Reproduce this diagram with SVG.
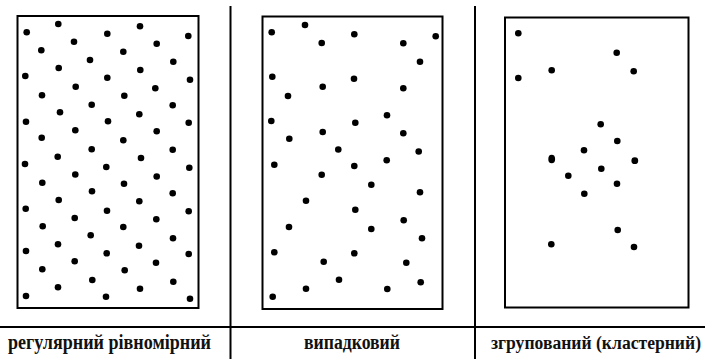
<svg xmlns="http://www.w3.org/2000/svg" width="705" height="359" viewBox="0 0 705 359">
<style>
.box{fill:none;stroke:#000;stroke-width:2}
.sep{stroke:#000;stroke-width:2}
.d{fill:#000}
.lbl{font-family:"Liberation Serif","Times New Roman",serif;font-weight:bold;font-size:20px;fill:#111;text-anchor:middle}
</style>
<rect width="705" height="359" fill="#fff"/>
<g id="separators">
<line class="sep" x1="230.5" y1="6" x2="230.5" y2="359"/>
<line class="sep" x1="475" y1="6" x2="475" y2="359"/>
<line class="sep" x1="0" y1="327" x2="705" y2="327"/>
</g>
<g id="panel-regular">
<rect class="box" x="17.5" y="16" width="181" height="292"/>
<g class="d">
<circle cx="26.7" cy="32.3" r="3.3"/><circle cx="58.3" cy="24" r="3.3"/><circle cx="107.3" cy="33.7" r="3.3"/><circle cx="140" cy="26.3" r="3.3"/><circle cx="188.3" cy="36" r="3.3"/>
<circle cx="74" cy="41.7" r="3.3"/><circle cx="156.7" cy="43.7" r="3.3"/><circle cx="41.3" cy="50.3" r="3.3"/><circle cx="123.3" cy="51.7" r="3.3"/><circle cx="90" cy="60" r="3.3"/><circle cx="173.3" cy="61.7" r="3.3"/>
<circle cx="58.7" cy="68" r="3.3"/><circle cx="140.3" cy="70" r="3.3"/><circle cx="25.3" cy="76" r="3.3"/><circle cx="107.3" cy="77.7" r="3.3"/><circle cx="190" cy="79.7" r="3.3"/>
<circle cx="75.7" cy="86.7" r="3.3"/><circle cx="155.3" cy="88.3" r="3.3"/><circle cx="42" cy="95.3" r="3.3"/><circle cx="124.3" cy="95.7" r="3.3"/><circle cx="91.7" cy="104.7" r="3.3"/><circle cx="172.7" cy="105.3" r="3.3"/>
<circle cx="60" cy="112.3" r="3.3"/><circle cx="139.3" cy="114.3" r="3.3"/><circle cx="26" cy="121.7" r="3.3"/><circle cx="108" cy="121.3" r="3.3"/><circle cx="188.7" cy="122.7" r="3.3"/>
<circle cx="75.3" cy="130.3" r="3.3"/><circle cx="156.7" cy="131.3" r="3.3"/><circle cx="41.7" cy="137.7" r="3.3"/><circle cx="123.3" cy="140.3" r="3.3"/><circle cx="91.7" cy="149.3" r="3.3"/><circle cx="172.7" cy="149.7" r="3.3"/>
<circle cx="57.7" cy="156.7" r="3.3"/><circle cx="141" cy="158" r="3.3"/><circle cx="25" cy="164" r="3.3"/><circle cx="106.3" cy="167" r="3.3"/><circle cx="189.3" cy="167.7" r="3.3"/>
<circle cx="75.3" cy="174.5" r="3.3"/><circle cx="156.7" cy="176.5" r="3.3"/><circle cx="42.3" cy="182.7" r="3.3"/><circle cx="124" cy="183.7" r="3.3"/><circle cx="92" cy="191.3" r="3.3"/><circle cx="172.7" cy="193.3" r="3.3"/>
<circle cx="58.7" cy="200" r="3.3"/><circle cx="139.3" cy="201.3" r="3.3"/><circle cx="25.7" cy="208.7" r="3.3"/><circle cx="107" cy="210.7" r="3.3"/><circle cx="188.7" cy="211.3" r="3.3"/>
<circle cx="74.7" cy="218" r="3.3"/><circle cx="156.3" cy="219.3" r="3.3"/><circle cx="42.7" cy="226.3" r="3.3"/><circle cx="123.3" cy="227" r="3.3"/><circle cx="90.7" cy="235.3" r="3.3"/><circle cx="173" cy="238.3" r="3.3"/>
<circle cx="58" cy="244.3" r="3.3"/><circle cx="139" cy="245.7" r="3.3"/><circle cx="26" cy="251" r="3.3"/><circle cx="106.7" cy="253.3" r="3.3"/><circle cx="188.7" cy="254" r="3.3"/>
<circle cx="74.7" cy="261.3" r="3.3"/><circle cx="156" cy="262.7" r="3.3"/><circle cx="42.3" cy="269.3" r="3.3"/><circle cx="124.7" cy="270.3" r="3.3"/><circle cx="92.3" cy="280" r="3.3"/><circle cx="173.3" cy="281.7" r="3.3"/>
<circle cx="58" cy="287.3" r="3.3"/><circle cx="140" cy="288.7" r="3.3"/><circle cx="26" cy="296" r="3.3"/><circle cx="106" cy="296.7" r="3.3"/><circle cx="190" cy="298.7" r="3.3"/>
</g>
<text class="lbl" x="109.5" y="348.5" textLength="203" lengthAdjust="spacingAndGlyphs">регулярний рівномірний</text>
</g>
<g id="panel-random">
<rect class="box" x="262.5" y="16.5" width="180" height="292.5"/>
<g class="d">
<circle cx="271.7" cy="32.3" r="3.3"/><circle cx="305" cy="25" r="3.3"/><circle cx="354.3" cy="34.3" r="3.3"/><circle cx="321.7" cy="43" r="3.3"/><circle cx="403.3" cy="43.3" r="3.3"/><circle cx="435.7" cy="36.3" r="3.3"/><circle cx="420" cy="61.7" r="3.3"/>
<circle cx="272.3" cy="76.7" r="3.3"/><circle cx="354" cy="78.7" r="3.3"/><circle cx="322.7" cy="86.7" r="3.3"/><circle cx="403.3" cy="88.3" r="3.3"/><circle cx="288" cy="96" r="3.3"/>
<circle cx="271.3" cy="121" r="3.3"/><circle cx="355.3" cy="122.7" r="3.3"/><circle cx="387" cy="115.3" r="3.3"/><circle cx="322.7" cy="132" r="3.3"/><circle cx="403.3" cy="133.3" r="3.3"/><circle cx="289.3" cy="138.7" r="3.3"/>
<circle cx="338.3" cy="149.5" r="3.3"/><circle cx="418.7" cy="151.5" r="3.3"/><circle cx="274.3" cy="164.8" r="3.3"/><circle cx="354.3" cy="166" r="3.3"/><circle cx="386.7" cy="160.2" r="3.3"/><circle cx="321.7" cy="174.8" r="3.3"/>
<circle cx="371.3" cy="184.7" r="3.3"/><circle cx="420" cy="192.3" r="3.3"/><circle cx="306" cy="200.7" r="3.3"/><circle cx="355.3" cy="209.7" r="3.3"/><circle cx="403.7" cy="220.3" r="3.3"/><circle cx="289" cy="227" r="3.3"/><circle cx="371.3" cy="229" r="3.3"/><circle cx="422" cy="238.3" r="3.3"/>
<circle cx="274.3" cy="252.3" r="3.3"/><circle cx="354.3" cy="253.3" r="3.3"/><circle cx="323.7" cy="261.7" r="3.3"/><circle cx="406.3" cy="262.7" r="3.3"/><circle cx="339" cy="279.7" r="3.3"/><circle cx="420.7" cy="282.3" r="3.3"/><circle cx="306" cy="288.7" r="3.3"/><circle cx="387.3" cy="289" r="3.3"/><circle cx="272.7" cy="296.7" r="3.3"/>
</g>
<text class="lbl" x="352" y="348.5" textLength="96" lengthAdjust="spacingAndGlyphs">випадковий</text>
</g>
<g id="panel-clustered">
<rect class="box" x="505" y="17.5" width="183.5" height="290"/>
<g class="d">
<circle cx="518.3" cy="33.3" r="3.3"/><circle cx="518.3" cy="78" r="3.3"/><circle cx="551.7" cy="70.3" r="3.3"/><circle cx="616.7" cy="52.7" r="3.3"/><circle cx="633.7" cy="71.3" r="3.3"/>
<circle cx="600.7" cy="124.3" r="3.3"/><circle cx="617.3" cy="141" r="3.3"/><circle cx="584" cy="150.3" r="3.3"/><ellipse cx="551.7" cy="159" rx="3.4" ry="4.3"/><circle cx="634.8" cy="160.7" r="3.4"/><circle cx="601.3" cy="168.7" r="3.3"/><circle cx="568.3" cy="175.8" r="3.3"/><circle cx="617" cy="183.7" r="3.3"/><circle cx="584.3" cy="193.7" r="3.3"/>
<circle cx="617.7" cy="230" r="3.3"/><circle cx="551.3" cy="244.3" r="3.3"/><circle cx="634" cy="247" r="3.3"/>
</g>
<text class="lbl" x="491" y="348.5" style="text-anchor:start;font-size:18px" textLength="210" lengthAdjust="spacingAndGlyphs">згрупований (кластерний)</text>
</g>
</svg>
